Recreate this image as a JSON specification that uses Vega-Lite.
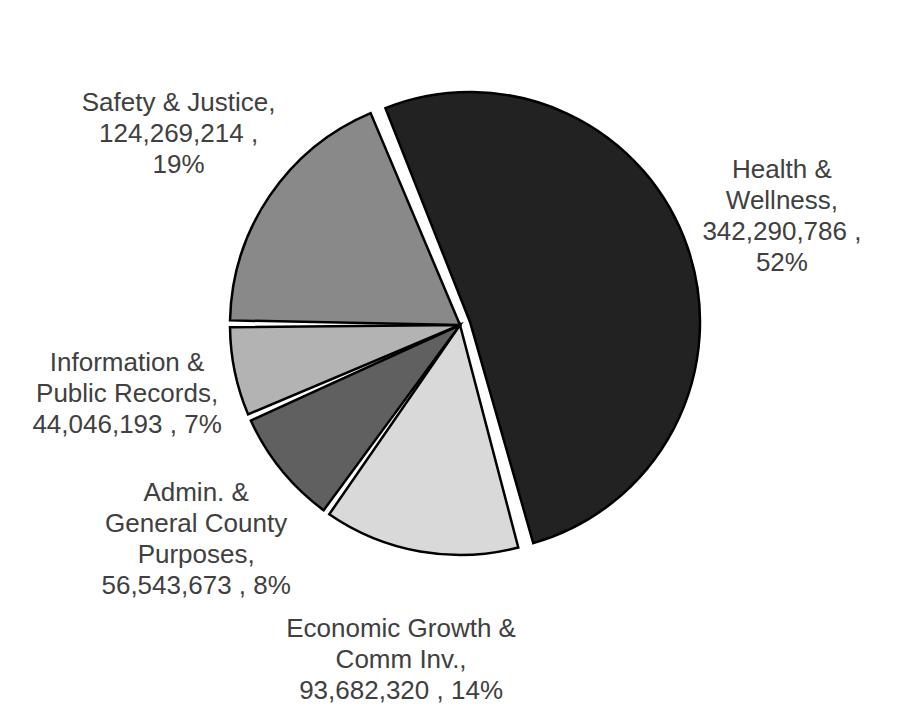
{
  "$schema": "https://vega.github.io/schema/vega-lite/v6.json",
  "autosize": "none",
  "width": 914,
  "height": 650,
  "padding": {"left": 3, "top": 0, "right": 0, "bottom": 65},
  "background": "white",
  "config": {"view": {"stroke": null}},
  "data": {
    "values": [
      {"idx": 1, "name": "Health & Wellness", "value": 342290786, "lines": 4, "label": "Health &\nWellness,\n342,290,786 ,\n52%"},
      {"idx": 2, "name": "Economic Growth & Comm Inv.", "value": 93682320, "lines": 3, "label": "Economic Growth &\nComm Inv.,\n93,682,320 , 14%"},
      {"idx": 3, "name": "Admin. & General County Purposes", "value": 56543673, "lines": 4, "label": "Admin. &\nGeneral County\nPurposes,\n56,543,673 , 8%"},
      {"idx": 4, "name": "Information & Public Records", "value": 44046193, "lines": 3, "label": "Information &\nPublic Records,\n44,046,193 , 7%"},
      {"idx": 5, "name": "Safety & Justice", "value": 124269214, "lines": 3, "label": "Safety & Justice,\n124,269,214 ,\n19%"}
    ]
  },
  "encoding": {
    "theta": {"field": "value", "type": "quantitative", "stack": true, "scale": {"range": [-0.384, 5.899]}},
    "order": {"field": "idx", "type": "quantitative"}
  },
  "layer": [
    {
      "mark": {"type": "arc", "outerRadius": 230, "padAngle": 0.015, "stroke": "black", "strokeWidth": 2.5, "xOffset": 10, "yOffset": -3},
      "encoding": {
        "color": {"field": "name", "type": "nominal", "legend": null,
          "scale": {"domain": ["Health & Wellness", "Economic Growth & Comm Inv.", "Admin. & General County Purposes", "Information & Public Records", "Safety & Justice"],
                    "range": ["#222222", "#d9d9d9", "#606060", "#b3b3b3", "#898989"]}},
        "opacity": {"condition": {"test": "datum.idx === 1", "value": 1}, "value": 0}
      }
    },
    {
      "mark": {"type": "arc", "outerRadius": 230, "padAngle": 0.03, "stroke": "black", "strokeWidth": 2.5},
      "encoding": {
        "color": {"field": "name", "type": "nominal", "legend": null},
        "opacity": {"condition": {"test": "datum.idx === 1", "value": 0}, "value": 1}
      }
    },
    {
      "mark": {"type": "text", "radius": 340, "dy": -31, "lineBreak": "\n", "font": "Liberation Sans", "fontSize": 26, "lineHeight": 31, "color": "#404040", "align": "center", "baseline": "middle"},
      "encoding": {
        "text": {"field": "label", "type": "nominal"},
        "opacity": {"condition": {"test": "datum.lines === 3", "value": 1}, "value": 0}
      }
    },
    {
      "mark": {"type": "text", "radius": 340, "dy": -46, "lineBreak": "\n", "font": "Liberation Sans", "fontSize": 26, "lineHeight": 31, "color": "#404040", "align": "center", "baseline": "middle"},
      "encoding": {
        "text": {"field": "label", "type": "nominal"},
        "opacity": {"condition": {"test": "datum.lines === 4", "value": 1}, "value": 0}
      }
    }
  ]
}
